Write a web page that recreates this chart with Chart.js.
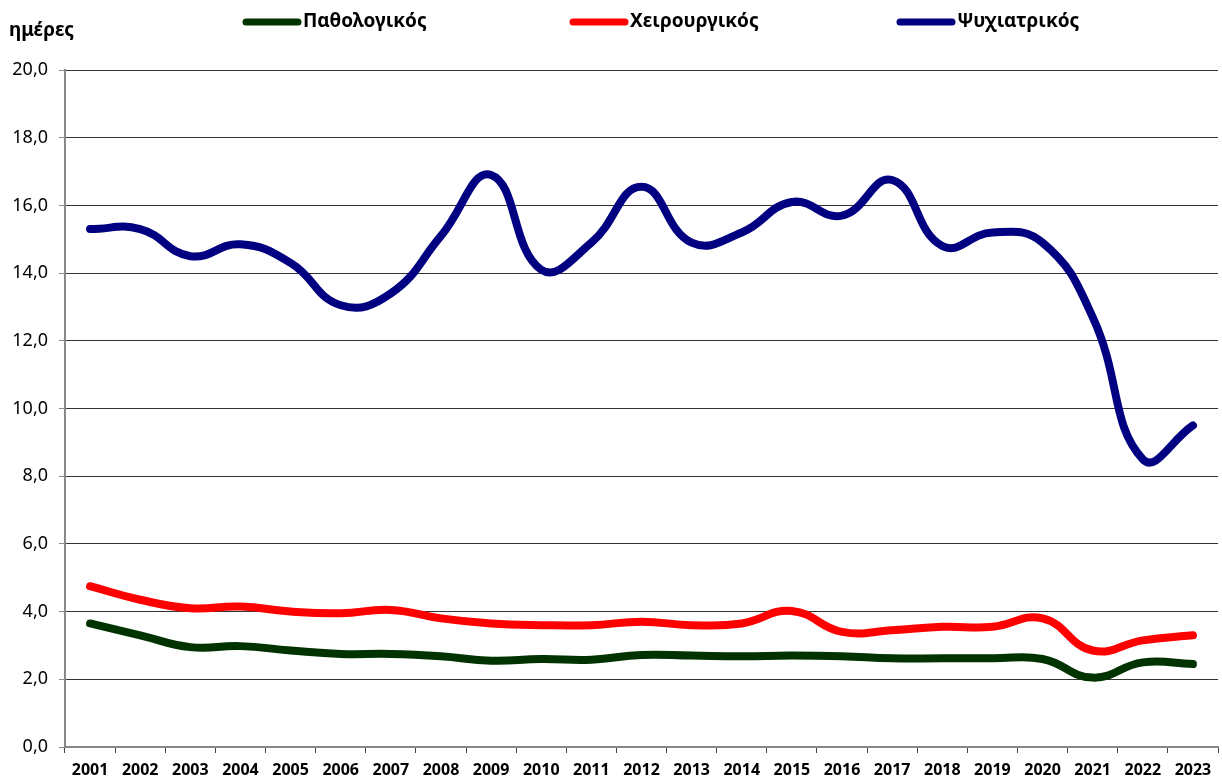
<!DOCTYPE html>
<html>
<head>
<meta charset="utf-8">
<script src="https://cdn.jsdelivr.net/npm/chart.js@4.4.0/dist/chart.umd.min.js"></script>
<style>
  html, body { margin: 0; padding: 0; background: #fff; }
  #wrap { width: 1222px; height: 782px; }
</style>
</head>
<body>
<div id="wrap"><canvas id="chart" width="1222" height="782"></canvas></div>
<script>
const years = ['2001','2002','2003','2004','2005','2006','2007','2008','2009','2010','2011','2012',
  '2013','2014','2015','2016','2017','2018','2019','2020','2021','2022','2023'];

const pathologikos = [3.65, 3.3, 2.95, 2.98, 2.85, 2.75, 2.75, 2.68, 2.55, 2.6, 2.58, 2.72,
  2.7, 2.68, 2.7, 2.68, 2.62, 2.62, 2.62, 2.6, 2.05, 2.5, 2.45];
const cheirourgikos = [4.75, 4.35, 4.1, 4.15, 4.0, 3.95, 4.05, 3.8, 3.65, 3.6, 3.6, 3.7,
  3.6, 3.65, 4.02, 3.4, 3.45, 3.55, 3.55, 3.8, 2.85, 3.15, 3.3];
const psychiatrikos = [15.3, 15.3, 14.5, 14.85, 14.3, 13.05, 13.4, 15.1, 16.9, 14.1, 14.9, 16.55,
  14.9, 15.2, 16.1, 15.7, 16.75, 14.8, 15.2, 14.9, 12.7, 8.5, 9.5];

const FONT = '"Noto Sans", "DejaVu Sans", sans-serif';

// legend drawn by hand so it sits like the original
const topLegend = {
  id: 'topLegend',
  afterDraw(chart) {
    const ctx = chart.ctx;
    const items = [
      { x: 246, text: 'Παθολογικός', color: '#003300' },
      { x: 573, text: 'Χειρουργικός', color: '#ff0000' },
      { x: 900, text: 'Ψυχιατρικός', color: '#000080' }
    ];
    ctx.save();
    ctx.font = 'bold 19px ' + FONT;
    ctx.textBaseline = 'middle';
    items.forEach(it => {
      ctx.strokeStyle = it.color;
      ctx.lineWidth = 7;
      ctx.lineCap = 'round';
      ctx.beginPath();
      ctx.moveTo(it.x, 22);
      ctx.lineTo(it.x + 52, 22);
      ctx.stroke();
      ctx.fillStyle = '#000';
      ctx.fillText(it.text, it.x + 57, 22);
    });
    ctx.font = 'bold 19px ' + FONT;
    ctx.fillText('ημέρες', 9, 31);
    ctx.restore();
  }
};

const ds = (label, data, color) => ({
  label, data,
  borderColor: color,
  backgroundColor: color,
  borderWidth: 8,
  borderCapStyle: 'round',
  borderJoinStyle: 'round',
  tension: 0.45,
  pointRadius: 0,
  fill: false
});

new Chart(document.getElementById('chart'), {
  type: 'line',
  data: {
    labels: years,
    datasets: [
      ds('Παθολογικός', pathologikos, '#003300'),
      ds('Χειρουργικός', cheirourgikos, '#ff0000'),
      ds('Ψυχιατρικός', psychiatrikos, '#000080')
    ]
  },
  options: {
    responsive: false,
    animation: false,
    layout: { padding: { top: 70, right: 4, left: 0, bottom: 0 } },
    plugins: {
      legend: { display: false },
      tooltip: { enabled: false }
    },
    scales: {
      x: {
        offset: true,
        grid: {
          offset: true,
          drawOnChartArea: false,
          drawTicks: true,
          tickLength: 6,
          tickColor: '#444'
        },
        border: { color: '#888', width: 2 },
        ticks: {
          color: '#000',
          padding: 8,
          maxRotation: 0,
          autoSkip: false,
          font: { family: FONT, size: 16, weight: 'bold' }
        },
        afterFit(scale) { scale.height = 35; }
      },
      y: {
        min: 0,
        max: 20,
        ticks: {
          stepSize: 2,
          color: '#000',
          padding: 11,
          font: { family: FONT, size: 18 },
          callback: v => v.toFixed(1).replace('.', ',')
        },
        grid: {
          color: '#333',
          lineWidth: 1,
          borderDash: [1, 1],
          tickLength: 6,
          tickColor: '#888',
          tickBorderDash: []
        },
        border: { color: '#888', width: 2 },
        afterFit(scale) { scale.width = 65; }
      }
    }
  },
  plugins: [topLegend]
});
</script>
</body>
</html>
